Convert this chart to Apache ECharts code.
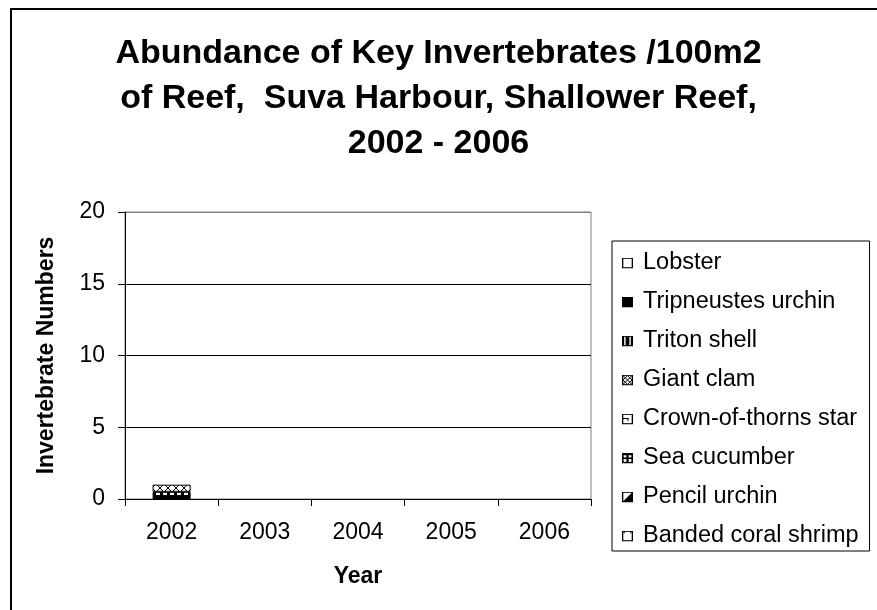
<!DOCTYPE html>
<html>
<head>
<meta charset="utf-8">
<script src="https://cdn.jsdelivr.net/npm/echarts@6/dist/echarts.min.js"></script>
<style>
html,body{margin:0;padding:0;background:#fff;}
#chart{width:877px;height:610px;}
</style>
</head>
<body>
<div id="chart"></div>
<script>
// ---- data ----
const years = ['2002', '2003', '2004', '2005', '2006'];
// series listed bottom-to-top of the stack (null = no record / nothing drawn)
const bandedCoralShrimp = [null, null, null, null, null];
const pencilUrchin      = [null, null, null, null, null];
const seaCucumber       = [0.5, null, null, null, null];
const crownOfThorns     = [null, null, null, null, null];
const giantClam         = [0.5, null, null, null, null];
const tritonShell       = [null, null, null, null, null];
const tripneustesUrchin = [null, null, null, null, null];
const lobster           = [null, null, null, null, null];
const legendOrder = ['Lobster', 'Tripneustes urchin', 'Triton shell', 'Giant clam',
  'Crown-of-thorns star', 'Sea cucumber', 'Pencil urchin', 'Banded coral shrimp'];
const yTicks = { min: 0, max: 20, interval: 5 };
const titleLines = ['Abundance of Key Invertebrates /100m2', 'of Reef,  Suva Harbour, Shallower Reef,', '2002 - 2006'];

// ---- patterns ----
function tile(w, h, draw) {
  const c = document.createElement('canvas');
  c.width = w; c.height = h;
  const g = c.getContext('2d');
  draw(g);
  return { image: c, repeat: 'repeat' };
}
const pat = {
  white: '#ffffff',
  black: '#000000',
  triton: tile(6, 6, g => { g.fillStyle = '#000'; g.fillRect(0,0,6,6); g.fillStyle = '#fff'; g.fillRect(2,0,1,6); }),
  clam: tile(8, 8, g => { g.fillStyle = '#fff'; g.fillRect(0,0,8,8); g.strokeStyle = '#000'; g.lineWidth = 1;
    g.beginPath(); g.moveTo(0,0); g.lineTo(8,8); g.moveTo(8,0); g.lineTo(0,8); g.stroke(); }),
  crown: tile(8, 8, g => { g.fillStyle = '#fff'; g.fillRect(0,0,8,8); g.fillStyle = '#000'; g.fillRect(0,3,5,1); }),
  cucumber: tile(7, 7, g => { g.fillStyle = '#000'; g.fillRect(0,0,7,7); g.fillStyle = '#fff'; g.fillRect(2,2,4,3); }),
  pencil: tile(8, 8, g => { g.fillStyle = '#fff'; g.fillRect(0,0,8,8); g.fillStyle = '#000';
    g.beginPath(); g.moveTo(8,0); g.lineTo(8,8); g.lineTo(0,8); g.closePath(); g.fill(); }),
  banded: tile(8, 8, g => { g.fillStyle = '#fff'; g.fillRect(0,0,8,8); g.fillStyle = '#000'; g.fillRect(0,0,1,2); })
};

function svgIcon(inner) {
  const s = '<svg xmlns="http://www.w3.org/2000/svg" width="11" height="11" viewBox="0 0 10 10">' + inner + '</svg>';
  return 'image://data:image/svg+xml;charset=utf-8,' + encodeURIComponent(s);
}
const box = '<rect x="0.6" y="0.6" width="8.8" height="8.8" fill="#fff" stroke="#000" stroke-width="1.2"/>';
const icons = {
  'Lobster': svgIcon(box),
  'Tripneustes urchin': svgIcon('<rect x="0" y="0" width="10" height="10" fill="#000"/>'),
  'Triton shell': svgIcon('<rect x="0" y="0" width="10" height="10" fill="#000"/><rect x="2" y="1.2" width="1.3" height="7.6" fill="#fff"/><rect x="6.7" y="1.2" width="1.3" height="7.6" fill="#fff"/>'),
  'Giant clam': svgIcon(box + '<path d="M1 1 L9 9 M9 1 L1 9 M5 1 L9 5 L5 9 L1 5 Z" stroke="#000" stroke-width="0.9" fill="none"/>'),
  'Crown-of-thorns star': svgIcon(box + '<path d="M0.5 4.5 H5.5 V6.5" stroke="#000" stroke-width="1" fill="none"/>'),
  'Sea cucumber': svgIcon('<rect x="0" y="0" width="10" height="10" fill="#000"/><rect x="1.5" y="2.5" width="2.5" height="2" fill="#fff"/><rect x="6" y="2.5" width="2.5" height="2" fill="#fff"/><rect x="1.5" y="6" width="2.5" height="2.5" fill="#fff"/><rect x="6" y="6" width="2.5" height="2.5" fill="#fff"/>'),
  'Pencil urchin': svgIcon(box + '<path d="M9.4 0.6 L9.4 9.4 L0.6 9.4 Z" fill="#000"/>'),
  'Banded coral shrimp': svgIcon(box + '<path d="M2 0.5 V2.5 M8 0.5 V2.5" stroke="#000" stroke-width="1"/>')
};

const seriesDefs = [
  ['Banded coral shrimp', bandedCoralShrimp, pat.banded],
  ['Pencil urchin', pencilUrchin, pat.pencil],
  ['Sea cucumber', seaCucumber, pat.cucumber],
  ['Crown-of-thorns star', crownOfThorns, pat.crown],
  ['Giant clam', giantClam, pat.clam],
  ['Triton shell', tritonShell, pat.triton],
  ['Tripneustes urchin', tripneustesUrchin, pat.black],
  ['Lobster', lobster, pat.white]
];

const FONT = '"Liberation Sans", Arial, sans-serif';
const chart = echarts.init(document.getElementById('chart'), null, { renderer: 'canvas' });
chart.setOption({
  backgroundColor: '#fff',
  animation: false,
  textStyle: { fontFamily: FONT, color: '#000' },
  title: {
    text: titleLines.join('\n'),
    left: 'center',
    top: 26,
    textStyle: { fontFamily: FONT, fontSize: 34, fontWeight: 'bold', color: '#000', lineHeight: 45 }
  },
  graphic: [{
    type: 'rect', silent: true, z: -1,
    shape: { x: 11, y: 9, width: 900, height: 700 },
    style: { fill: 'none', stroke: '#000', lineWidth: 2 }
  }],
  legend: {
    orient: 'vertical',
    left: 612, top: 241,
    padding: [10, 11, 3, 10],
    borderColor: '#000', borderWidth: 1,
    itemWidth: 11, itemHeight: 11,
    itemGap: 15,
    textStyle: { fontFamily: FONT, fontSize: 23.5, color: '#000', lineHeight: 23, padding: [0, 0, 0, 5] },
    data: legendOrder.map(n => ({ name: n, icon: icons[n] }))
  },
  grid: { left: 125, top: 212, width: 466, height: 287, show: true, borderColor: '#808080', borderWidth: 1, backgroundColor: 'transparent' },
  xAxis: {
    type: 'category',
    data: years,
    name: 'Year',
    nameLocation: 'middle',
    nameGap: 66,
    nameTextStyle: { fontFamily: FONT, fontSize: 23, fontWeight: 'bold', color: '#000' },
    axisLine: { lineStyle: { color: '#000', width: 1 } },
    axisTick: { show: true, length: 7, lineStyle: { color: '#000' } },
    axisLabel: { fontFamily: FONT, fontSize: 23, color: '#000', margin: 22 },
    splitLine: { show: false }
  },
  yAxis: {
    type: 'value',
    min: yTicks.min, max: yTicks.max, interval: yTicks.interval,
    name: 'Invertebrate Numbers',
    nameLocation: 'middle',
    nameGap: 67,
    nameTextStyle: { fontFamily: FONT, fontSize: 23, fontWeight: 'bold', color: '#000' },
    axisLine: { show: true, lineStyle: { color: '#000', width: 1 } },
    axisTick: { show: true, length: 7, lineStyle: { color: '#000' } },
    axisLabel: { fontFamily: FONT, fontSize: 23, color: '#000', margin: 20 },
    splitLine: { show: true, lineStyle: { color: ['#000', '#000', '#000', '#000', '#808080'], width: 1 } }
  },
  series: seriesDefs.map(([name, data, fill]) => ({
    name, type: 'bar', stack: 'total', data,
    barWidth: 38,
    itemStyle: { color: fill, borderColor: '#000', borderWidth: 1 },
    emphasis: { disabled: true }
  }))
});
</script>
</body>
</html>
